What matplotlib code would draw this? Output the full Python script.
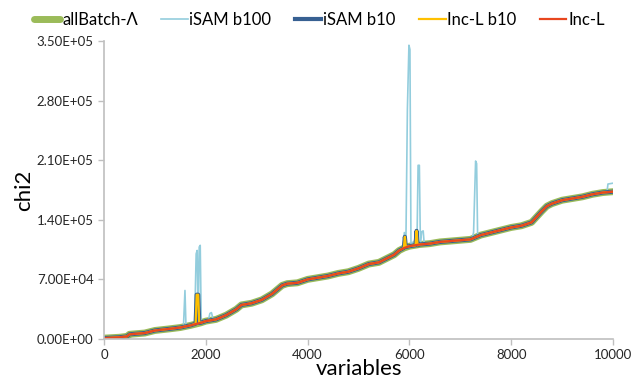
import numpy as np
import matplotlib
matplotlib.use("Agg")
import matplotlib.pyplot as plt
from matplotlib.ticker import FuncFormatter

plt.rcParams["font.family"] = ["Lato", "DejaVu Sans"]

# ---------------------------------------------------
# Data
# ---------------------------------------------------

base_x = [0, 300, 450, 500, 800, 1000, 1300, 1500, 1700, 1900, 2000, 2200,
          2400, 2600, 2700, 2900, 3100, 3300, 3500, 3600, 3800, 4000, 4200,
          4400, 4600, 4800, 5000, 5200, 5400, 5600, 5700, 5800, 5900, 6000,
          6200, 6400, 6600, 6800, 7000, 7200, 7400, 7600, 7800, 8000, 8200,
          8400, 8600, 8700, 8800, 9000, 9200, 9400, 9600, 9800, 10000]
base_y = [1e3, 2e3, 3e3, 5.5e3, 7e3, 1.0e4, 1.2e4, 1.35e4, 1.6e4, 1.9e4,
          2.1e4, 2.3e4, 2.8e4, 3.5e4, 4.0e4, 4.2e4, 4.6e4, 5.3e4, 6.3e4,
          6.5e4, 6.6e4, 7.0e4, 7.2e4, 7.4e4, 7.7e4, 7.9e4, 8.3e4, 8.8e4,
          9.0e4, 9.6e4, 9.9e4, 1.04e5, 1.07e5, 1.09e5, 1.11e5, 1.12e5,
          1.14e5, 1.15e5, 1.16e5, 1.17e5, 1.22e5, 1.25e5, 1.28e5, 1.31e5,
          1.33e5, 1.37e5, 1.50e5, 1.56e5, 1.59e5, 1.63e5, 1.65e5, 1.67e5,
          1.70e5, 1.72e5, 1.73e5]

isam100_x = [0, 300, 450, 500, 800, 1000, 1300, 1500, 1560, 1590, 1610, 1700,
             1780, 1810, 1830, 1850, 1870, 1890, 1910, 2000, 2050, 2080, 2110,
             2140, 2200, 2400, 2600, 2700, 2900, 3100, 3300, 3500, 3600, 3800,
             4000, 4200, 4400, 4600, 4800, 5000, 5200, 5400, 5600, 5700, 5800,
             5880, 5900, 5930, 5960, 5990, 6010, 6030, 6100, 6130, 6150, 6170,
             6195, 6215, 6240, 6270, 6290, 6400, 6600, 6800, 7000, 7200, 7230,
             7260, 7300, 7320, 7340, 7400, 7600, 7800, 8000, 8200, 8400, 8600,
             8700, 8800, 9000, 9200, 9400, 9600, 9800, 9880, 9900, 10000]
isam100_y = [1e3, 2e3, 3e3, 5.5e3, 7e3, 1.0e4, 1.2e4, 1.35e4, 1.4e4, 5.7e4,
             1.5e4, 1.6e4, 1.8e4, 1.0e5, 1.04e5, 1.9e4, 1.08e5, 1.10e5, 2.0e4,
             2.1e4, 2.2e4, 3.0e4, 3.1e4, 2.4e4, 2.3e4, 2.8e4, 3.5e4, 4.0e4,
             4.2e4, 4.6e4, 5.3e4, 6.3e4, 6.5e4, 6.6e4, 7.0e4, 7.2e4, 7.4e4,
             7.7e4, 7.9e4, 8.3e4, 8.8e4, 9.0e4, 9.6e4, 9.9e4, 1.04e5, 1.08e5,
             1.25e5, 1.10e5, 2.70e5, 3.45e5, 3.40e5, 1.12e5, 1.15e5, 1.25e5,
             1.20e5, 2.04e5, 2.04e5, 1.12e5, 1.26e5, 1.27e5, 1.12e5, 1.12e5,
             1.14e5, 1.15e5, 1.16e5, 1.17e5, 1.18e5, 1.25e5, 2.09e5, 2.06e5,
             1.19e5, 1.22e5, 1.25e5, 1.28e5, 1.31e5, 1.33e5, 1.37e5, 1.50e5,
             1.56e5, 1.59e5, 1.63e5, 1.65e5, 1.67e5, 1.70e5, 1.72e5, 1.72e5,
             1.82e5, 1.83e5]

incb10_x = [0, 300, 450, 500, 800, 1000, 1300, 1500, 1700, 1800, 1820, 1850,
            1870, 1900, 2000, 2200, 2400, 2600, 2700, 2900, 3100, 3300, 3500,
            3600, 3800, 4000, 4200, 4400, 4600, 4800, 5000, 5200, 5400, 5600,
            5700, 5800, 5890, 5910, 5930, 6000, 6120, 6140, 6160, 6200, 6400,
            6600, 6800, 7000, 7200, 7400, 7600, 7800, 8000, 8200, 8400, 8600,
            8700, 8800, 9000, 9200, 9400, 9600, 9800, 10000]
incb10_y = [1e3, 2e3, 3e3, 5.5e3, 7e3, 1.0e4, 1.2e4, 1.35e4, 1.6e4, 1.8e4,
            5.2e4, 5.2e4, 1.9e4, 1.9e4, 2.1e4, 2.3e4, 2.8e4, 3.5e4, 4.0e4,
            4.2e4, 4.6e4, 5.3e4, 6.3e4, 6.5e4, 6.6e4, 7.0e4, 7.2e4, 7.4e4,
            7.7e4, 7.9e4, 8.3e4, 8.8e4, 9.0e4, 9.6e4, 9.9e4, 1.04e5, 1.07e5,
            1.20e5, 1.08e5, 1.09e5, 1.10e5, 1.27e5, 1.10e5, 1.11e5, 1.12e5,
            1.14e5, 1.15e5, 1.16e5, 1.17e5, 1.22e5, 1.25e5, 1.28e5, 1.31e5,
            1.33e5, 1.37e5, 1.50e5, 1.56e5, 1.59e5, 1.63e5, 1.65e5, 1.67e5,
            1.70e5, 1.72e5, 1.73e5]

# iSAM b10 follows the Inc-L b10 spikes closely
isamb10_x = incb10_x
isamb10_y = incb10_y

# ---------------------------------------------------
# Figure
# ---------------------------------------------------

fig = plt.figure(figsize=(6.32, 3.83), dpi=100)
ax = fig.add_axes([0.1646, 0.1149, 0.8054, 0.7781])

ax.plot(base_x, base_y, color="#9BBB59", lw=5, label="allBatch-\u039b",
        solid_joinstyle="round", solid_capstyle="round")
ax.plot(isam100_x, isam100_y, color="#93CDDD", lw=1.2, label="iSAM b100")
ax.plot(isamb10_x, isamb10_y, color="#376092", lw=3, label="iSAM b10")
ax.plot(incb10_x, incb10_y, color="#FFC000", lw=1.6, label="Inc-L b10")
ax.plot(base_x, base_y, color="#E8461E", lw=1.6, label="Inc-L")

ax.set_xlim(0, 10000)
ax.set_ylim(0, 3.5e5)
ax.set_xticks(np.arange(0, 10001, 2000))
ax.set_yticks(np.arange(0, 3.5e5 + 1, 7e4))
ax.yaxis.set_major_formatter(FuncFormatter(lambda v, p: f"{v:.2E}"))

for side in ["top", "right"]:
    ax.spines[side].set_visible(False)
for side in ["left", "bottom"]:
    ax.spines[side].set_color("#BFBFBF")
    ax.spines[side].set_linewidth(1.2)
ax.tick_params(colors="#BFBFBF", labelcolor="#262626", labelsize=9.5,
               length=4, width=1)

ax.set_xlabel("variables", fontsize=16, labelpad=-2)
ax.set_ylabel("chi2", fontsize=16, labelpad=2)

fig.legend(loc="upper center", bbox_to_anchor=(0.505, 0.995), ncol=5,
           frameon=False, fontsize=12, handlelength=1.6, handletextpad=0.1,
           columnspacing=1.4, borderaxespad=0.2)

plt.savefig("out.png", dpi=100)
